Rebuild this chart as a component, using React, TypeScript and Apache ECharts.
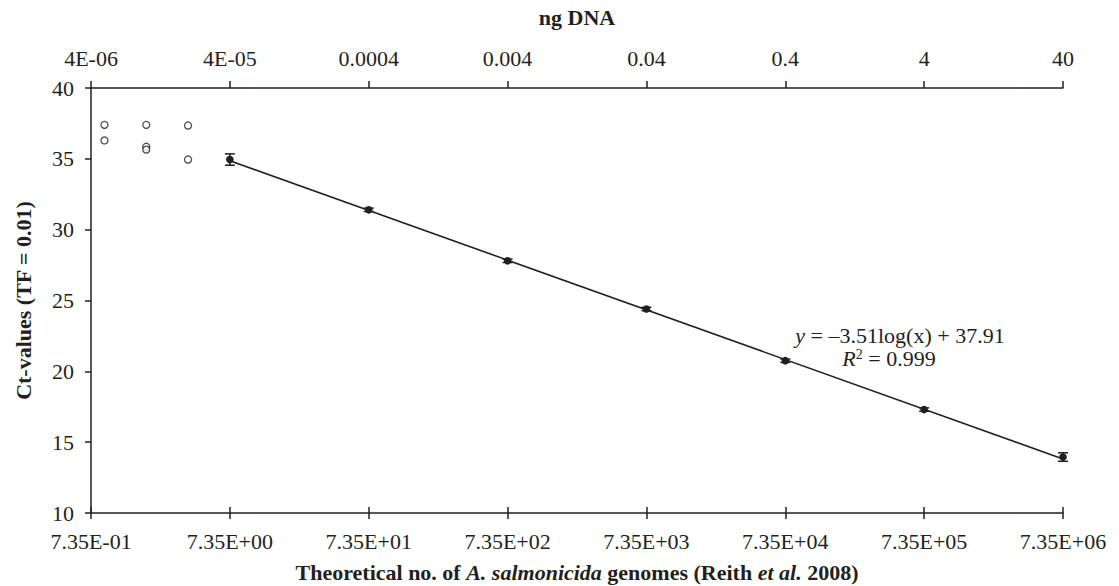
import React, { useEffect, useRef } from 'react';
import * as echarts from 'echarts';

// Bottom axis: theoretical genomes; top axis: ng DNA (same positions)
const genomeTicks = [0.735, 7.35, 73.5, 735, 7350, 73500, 735000, 7350000];
const genomeLabels = ['7.35E-01', '7.35E+00', '7.35E+01', '7.35E+02', '7.35E+03', '7.35E+04', '7.35E+05', '7.35E+06'];
const ngDnaLabels = ['4E-06', '4E-05', '0.0004', '0.004', '0.04', '0.4', '4', '40'];

// Mean Ct values with error
const meanGenomes = [7.35, 73.5, 735, 7350, 73500, 735000, 7350000];
const meanCt = [34.95, 31.4, 27.8, 24.4, 20.75, 17.3, 13.95];
const ctErr = [0.4, 0.12, 0.12, 0.12, 0.12, 0.12, 0.3];

// Individual replicates below the linear range (open circles)
const lowGenomes = [0.919, 0.919, 1.8375, 1.8375, 1.8375, 3.675, 3.675];
const lowCt = [37.4, 36.3, 37.4, 35.85, 35.65, 37.35, 34.95];

// Regression shown on chart
const slope = -3.51;
const intercept = 37.91;
const fitRange = [7.35, 7350000];

const INK = '#231f20';
const FONT = "'Liberation Serif', 'Times New Roman', serif";

export default function App() {
  const ref = useRef<HTMLDivElement>(null);
  useEffect(() => {
    if (!ref.current) return;
    const chart = echarts.init(ref.current, undefined, { renderer: 'svg' });
    const tickLogs = genomeTicks.map((v) => Math.log10(v));
    const xMin = tickLogs[0];
    const xMax = tickLogs[tickLogs.length - 1];
    const fmt = (labels: string[]) => (v: number) => {
      const i = tickLogs.findIndex((t) => Math.abs(t - v) < 1e-6);
      return i >= 0 ? labels[i] : '';
    };
    const labelStyle = { fontFamily: FONT, fontSize: 22, color: INK };
    const lineStyle = { color: INK, width: 1.5 };

    chart.setOption({
      animation: false,
      backgroundColor: '#ffffff',
      grid: { left: 91, right: 56, top: 88, bottom: 73, containLabel: false, outerBoundsMode: 'none' },
      xAxis: [
        {
          type: 'value',
          position: 'bottom',
          min: xMin,
          max: xMax,
          axisLine: { show: true, onZero: false, lineStyle },
          axisTick: { show: true, length: 6, inside: false, lineStyle, customValues: tickLogs },
          axisLabel: { ...labelStyle, margin: 17, customValues: tickLogs, formatter: fmt(genomeLabels) },
          splitLine: { show: false },
          name: '{b|Theoretical no. of }{bi|A. salmonicida}{b| genomes (Reith }{bi|et al.}{b| 2008)}',
          nameLocation: 'middle',
          nameGap: 48,
          nameTextStyle: {
            rich: {
              b: { fontFamily: FONT, fontSize: 22, fontWeight: 'bold', color: INK },
              bi: { fontFamily: FONT, fontSize: 22, fontWeight: 'bold', fontStyle: 'italic', color: INK },
            },
          },
        },
        {
          type: 'value',
          position: 'bottom',
          min: xMin,
          max: xMax,
          axisLine: { show: false, onZero: false },
          axisTick: { show: true, length: 6, inside: true, lineStyle, customValues: tickLogs },
          axisLabel: { show: false },
          splitLine: { show: false },
        },
        {
          type: 'value',
          position: 'top',
          min: xMin,
          max: xMax,
          axisLine: { show: true, onZero: false, lineStyle },
          axisTick: { show: true, length: 7, inside: false, lineStyle, customValues: tickLogs },
          axisLabel: { ...labelStyle, margin: 19, customValues: tickLogs, formatter: fmt(ngDnaLabels) },
          splitLine: { show: false },
          name: 'ng DNA',
          nameLocation: 'middle',
          nameGap: 60,
          nameTextStyle: { fontFamily: FONT, fontSize: 22, fontWeight: 'bold', color: INK },
        },
      ],
      yAxis: {
        type: 'value',
        min: 10,
        max: 40,
        interval: 5,
        axisLine: { show: true, onZero: false, lineStyle },
        axisTick: { show: true, length: 6, inside: false, lineStyle },
        axisLabel: { ...labelStyle, margin: 17 },
        splitLine: { show: false },
        name: 'Ct-values (TF = 0.01)',
        nameLocation: 'middle',
        nameGap: 57,
        nameTextStyle: { fontFamily: FONT, fontSize: 22, fontWeight: 'bold', color: INK },
      },
      series: [
        {
          type: 'line',
          xAxisIndex: 0,
          yAxisIndex: 0,
          data: fitRange.map((g) => [Math.log10(g), intercept + slope * Math.log10(g)]),
          symbol: 'none',
          lineStyle: { color: INK, width: 1.6 },
          silent: true,
        },
        {
          type: 'scatter',
          xAxisIndex: 0,
          yAxisIndex: 0,
          data: lowGenomes.map((g, i) => [Math.log10(g), lowCt[i]]),
          symbol: 'circle',
          symbolSize: 7,
          itemStyle: { color: '#ffffff', borderColor: INK, borderWidth: 1.3 },
        },
        {
          type: 'custom',
          xAxisIndex: 0,
          yAxisIndex: 0,
          data: meanGenomes.map((g, i) => [Math.log10(g), meanCt[i], ctErr[i]]),
          encode: { x: 0, y: 1 },
          renderItem: (params: any, api: any) => {
            const x = api.value(0);
            const y = api.value(1);
            const e = api.value(2);
            const c = api.coord([x, y]);
            const hi = api.coord([x, y + e]);
            const lo = api.coord([x, y - e]);
            const cap = 5;
            const st = { stroke: INK, lineWidth: 1.5 };
            return {
              type: 'group',
              children: [
                { type: 'line', shape: { x1: c[0], y1: hi[1], x2: c[0], y2: lo[1] }, style: st },
                { type: 'line', shape: { x1: c[0] - cap, y1: hi[1], x2: c[0] + cap, y2: hi[1] }, style: st },
                { type: 'line', shape: { x1: c[0] - cap, y1: lo[1], x2: c[0] + cap, y2: lo[1] }, style: st },
                { type: 'circle', shape: { cx: c[0], cy: c[1], r: 3.8 }, style: { fill: INK } },
              ],
            };
          },
        },
      ],
      graphic: [
        {
          type: 'text',
          x: 900,
          y: 335,
          style: {
            text: '{i|y} = –3.51log(x) + 37.91',
            align: 'center',
            verticalAlign: 'middle',
            fontFamily: FONT,
            fontSize: 22,
            fill: INK,
            rich: {
              i: { fontFamily: FONT, fontSize: 22, fontStyle: 'italic', fill: INK },
            },
          },
        },
        {
          type: 'text',
          x: 889,
          y: 358,
          style: {
            text: '{i|R}{s|2} = 0.999',
            align: 'center',
            verticalAlign: 'middle',
            fontFamily: FONT,
            fontSize: 22,
            fill: INK,
            rich: {
              i: { fontFamily: FONT, fontSize: 22, fontStyle: 'italic', fill: INK },
              s: { fontFamily: FONT, fontSize: 14, fill: INK, verticalAlign: 'top' },
            },
          },
        },
      ],
    });
    return () => chart.dispose();
  }, []);
  return (
    <div
      ref={ref}
      style={{ position: 'fixed', left: 0, top: 0, width: 1119, height: 586, background: '#fff' }}
    />
  );
}
